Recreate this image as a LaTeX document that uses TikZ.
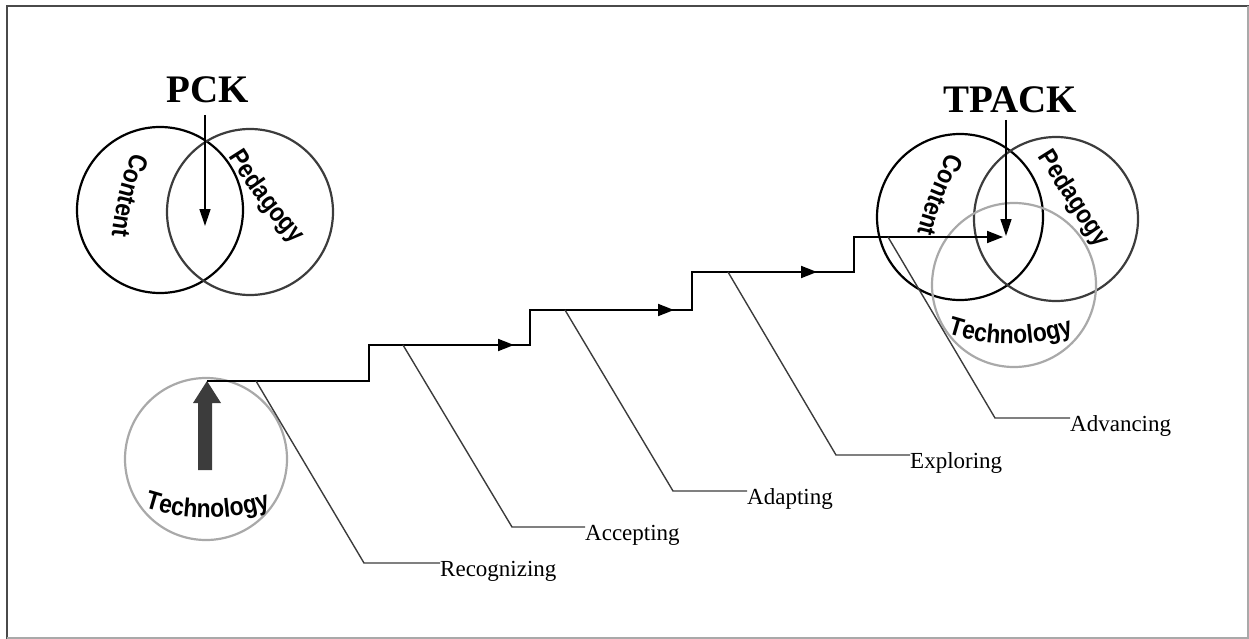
\documentclass[tikz,border=0pt]{standalone}
\usepackage{fontspec}
\setmainfont{Liberation Serif}
\setsansfont{Liberation Sans}
\newfontfamily\techfamily[FakeStretch=0.88]{Liberation Sans}
\usetikzlibrary{arrows.meta,decorations.text}
\definecolor{dk}{HTML}{3C3C3C}
\definecolor{lg}{HTML}{A9A9A9}
\definecolor{fr}{HTML}{4A4A4A}
\newcommand{\curvefont}{\techfamily\bfseries\fontsize{26}{26}\selectfont}
\begin{document}
\begin{tikzpicture}[x=1pt,y=-1pt,
  ring/.style={circle, draw, line width=2.2pt, minimum size=#1, inner sep=0pt},
  title/.style={font=\bfseries\fontsize{39}{39}\selectfont, inner sep=0pt},
  lab/.style={font=\fontsize{23}{23}\selectfont, inner sep=0pt, anchor=base west},
  ptr/.style={line width=1.4pt, -{Triangle[length=17pt,width=11pt]}},
  stair/.style={line width=1.8pt, black},
  tipper/.style={line width=1.8pt, -{Triangle[length=16pt,width=12pt]}},
  lead/.style={line width=1.4pt, dk}]
\useasboundingbox (0,0) rectangle (1249,639);
% frame
\draw[fr, line width=2pt] (7,639) -- (7,6) -- (1249,6);
\draw[lg, line width=1.5pt] (1248,6) -- (1248,638) -- (7,638);

% PCK circles
\node[ring=166pt, draw=black] (pc) at (160,210) {};
\node[ring=166pt, draw=dk] (pp) at (250,212) {};
% TPACK circles
\node[ring=166pt, draw=black] (tc) at (960,217) {};
\node[ring=164pt, draw=dk] (tp) at (1056,219) {};
\node[ring=164pt, draw=lg] (tt) at (1014,285) {};
% Technology circle
\node[ring=162pt, draw=lg] (tech) at (206,459) {};

% titles
\node[title, anchor=base] (pck) at (208,103) {PCK};
\node[title, anchor=base] (tpack) at (1010,113) {TPACK};
\coordinate (pa) at (205,115);
\coordinate (pb) at (205,226);
\draw[ptr] (pa) -- (pb);
\coordinate (ta) at (1006,120);
\coordinate (tb) at (1006,236);
\draw[ptr] (ta) -- (tb);

% curved texts
\path[decorate, decoration={text along path, text align=center, text={|\curvefont|Content}}]
  (136,143) .. controls (123,177) and (113,210) .. (111,246);
\path[decorate, decoration={text along path, text align=center, text={|\curvefont|Pedagogy}}]
  (223,148) .. controls (245,185) and (271,219) .. (301,252);
\path[decorate, decoration={text along path, text align=center, text={|\curvefont|Content}}]
  (950,146) .. controls (937,180) and (921,210) .. (916,240);
\path[decorate, decoration={text along path, text align=center, text={|\curvefont|Pedagogy}}]
  (1031,145) .. controls (1055,184) and (1079,221) .. (1105,259);
\path[decorate, decoration={text along path, text align=center, text={|\curvefont|Technology}}]
  (137,505) .. controls (183,522) and (232,522) .. (278,505);
\path[decorate, decoration={text along path, text align=center, text={|\curvefont|Technology}}]
  (940,331) .. controls (986,348) and (1035,348) .. (1081,331);

% thick arrow
\fill[dk] (198,470) -- (212,470) -- (212,403) -- (221,403) -- (207,381) -- (193,403) -- (198,403) -- cycle;

% staircase
\coordinate (s0) at (207,381);
\coordinate (s1) at (369,381);
\coordinate (s2) at (369,345);
\coordinate (s3) at (530,345);
\coordinate (s4) at (530,310);
\coordinate (s5) at (692,310);
\coordinate (s6) at (692,272);
\coordinate (s7) at (854,272);
\coordinate (s8) at (854,237);
\coordinate (s9) at (1003,237);
\draw[stair, -{Triangle[length=16pt,width=12pt]}] (s0) -- (s1) -- (s2) -- (s3) -- (s4) -- (s5) -- (s6) -- (s7) -- (s8) -- (s9);
\coordinate (m1a) at (496,345); \coordinate (m1b) at (514,345);
\coordinate (m2a) at (656,310); \coordinate (m2b) at (674,310);
\coordinate (m3a) at (799,272); \coordinate (m3b) at (817,272);
\draw[tipper] (m1a) -- (m1b);
\draw[tipper] (m2a) -- (m2b);
\draw[tipper] (m3a) -- (m3b);

% labels and leaders
\node[lab] (rec) at (440,576) {Recognizing};
\node[lab] (acc) at (585,540) {Accepting};
\node[lab] (ada) at (747,504) {Adapting};
\node[lab] (exp) at (910,468) {Exploring};
\node[lab] (adv) at (1070,431) {Advancing};
\coordinate (r0) at (256,381); \coordinate (r1) at (364,563);
\coordinate (a0) at (403,345); \coordinate (a1) at (512,527);
\coordinate (d0) at (565,310); \coordinate (d1) at (673,491);
\coordinate (e0) at (728,272); \coordinate (e1) at (836,455);
\coordinate (v0) at (888,237); \coordinate (v1) at (995,418);
\draw[lead] (r0) -- (r1) -- (r1 -| rec.west);
\draw[lead] (a0) -- (a1) -- (a1 -| acc.west);
\draw[lead] (d0) -- (d1) -- (d1 -| ada.west);
\draw[lead] (e0) -- (e1) -- (e1 -| exp.west);
\draw[lead] (v0) -- (v1) -- (v1 -| adv.west);
\end{tikzpicture}
\end{document}
